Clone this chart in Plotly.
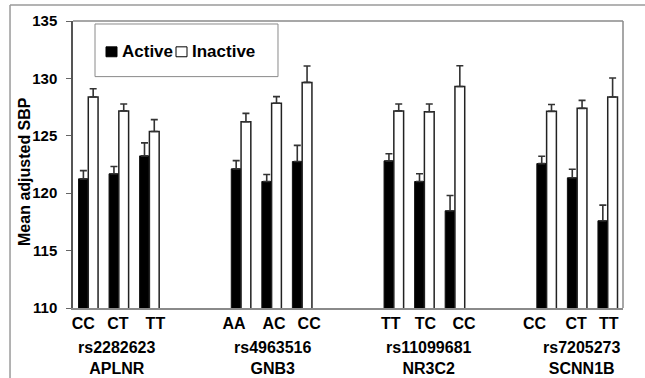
import plotly.graph_objects as go

# ---------------- data ----------------
snps = ["rs2282623", "rs4963516", "rs11099681", "rs7205273"]
genes = ["APLNR", "GNB3", "NR3C2", "SCNN1B"]
genotypes = [["CC", "CT", "TT"], ["AA", "AC", "CC"], ["TT", "TC", "CC"], ["CC", "CT", "TT"]]

active_mean = [121.25, 121.69, 123.25, 122.12, 121.02, 122.76, 122.82, 121.02, 118.47, 122.58, 121.34, 117.60]
active_err = [0.72, 0.63, 1.13, 0.72, 0.61, 1.41, 0.61, 0.67, 1.33, 0.64, 0.75, 1.36]
inactive_mean = [128.38, 127.17, 125.37, 126.23, 127.83, 129.65, 127.17, 127.10, 129.30, 127.13, 127.39, 128.38]
inactive_err = [0.72, 0.60, 1.04, 0.72, 0.58, 1.43, 0.60, 0.67, 1.80, 0.60, 0.70, 1.65]

y_ticks = [110, 115, 120, 125, 130, 135]

# ---------------- layout helpers ----------------
SLOT_PX = 550 / 18.0
# small horizontal shifts (px) of the text labels, as placed in the original figure
label_shift_px = [-5, -1, 6, -7, 2.5, 7, -3, 1, 9, -12, -1, 1]
gene_shift_px = [-2, 1.5, 5, 4.5]

# category slot positions: 3 genotypes per SNP, 2 empty slots between SNPs
xpos = []
labels = []
for g, gts in enumerate(genotypes):
    for i, gt in enumerate(gts):
        xpos.append(g * 5 + i)
        labels.append(gt)
tick_pos = [x + s / SLOT_PX for x, s in zip(xpos, label_shift_px)]
group_centers = [g * 5 + 1 + s / SLOT_PX for g, s in zip(range(len(snps)), gene_shift_px)]

FONT = "Arial, Liberation Sans, sans-serif"

fig = go.Figure()
fig.add_trace(go.Bar(
    x=xpos, y=active_mean, name="Active", offsetgroup="a",
    marker=dict(color="black", line=dict(color="#111", width=1)),
    error_y=dict(type="data", array=active_err, arrayminus=[0] * len(active_err),
                 symmetric=False, color="#333", thickness=1.6, width=3.5),
    showlegend=False,
))
fig.add_trace(go.Bar(
    x=xpos, y=inactive_mean, name="Inactive", offsetgroup="b",
    marker=dict(color="white", line=dict(color="#222", width=1.5)),
    error_y=dict(type="data", array=inactive_err, arrayminus=[0] * len(inactive_err),
                 symmetric=False, color="#333", thickness=1.6, width=3.5),
    showlegend=False,
))

shapes = [
    # outer frame (left + top)
    dict(type="line", xref="paper", yref="paper", x0=-0.1145, x1=-0.1145, y0=-0.3, y1=1.0554,
         line=dict(color="#9a9a9a", width=1.5)),
    dict(type="line", xref="paper", yref="paper", x0=-0.1145, x1=1.1, y0=1.0554, y1=1.0554,
         line=dict(color="#9a9a9a", width=1.5)),
    # plot area top/right border
    dict(type="line", xref="paper", yref="paper", x0=0, x1=1, y0=1, y1=1,
         line=dict(color="#8a8a8a", width=1.5)),
    dict(type="line", xref="paper", yref="paper", x0=1, x1=1, y0=0, y1=1,
         line=dict(color="#8a8a8a", width=1.5)),
    # legend box
    dict(type="rect", xref="paper", yref="paper", x0=0.040, x1=0.3727, y0=0.8062, y1=0.9896,
         line=dict(color="#8a8a8a", width=1), fillcolor="white"),
    # legend squares
    dict(type="rect", xref="paper", yref="paper", x0=0.060, x1=0.080, y0=0.8754, y1=0.910,
         line=dict(color="black", width=1), fillcolor="black"),
    dict(type="rect", xref="paper", yref="paper", x0=0.1873, x1=0.2073, y0=0.8754, y1=0.910,
         line=dict(color="black", width=1), fillcolor="white"),
]

annotations = [
    dict(text="Active", xref="paper", yref="paper", x=0.0855, y=0.8927, xanchor="left",
         yanchor="middle", showarrow=False, font=dict(family=FONT, size=17, color="black", weight="bold")),
    dict(text="Inactive", xref="paper", yref="paper", x=0.2125, y=0.8927, xanchor="left",
         yanchor="middle", showarrow=False, font=dict(family=FONT, size=17, color="black", weight="bold")),
    dict(text="Mean adjusted SBP", xref="paper", yref="paper", x=(25 - 73) / 550, y=(308 - 170) / 289,
         xanchor="center", yanchor="middle", textangle=-90, showarrow=False,
         font=dict(family=FONT, size=16, color="black", weight="bold")),
]
for c, s, gname in zip(group_centers, snps, genes):
    annotations.append(dict(
        text=f"{s}<br>{gname}", x=c, xref="x", yref="paper", y=(308 - 358) / 289,
        xanchor="center", yanchor="middle", showarrow=False,
        font=dict(family=FONT, size=16, color="black", weight="bold")))

fig.update_layout(
    width=645, height=378,
    margin=dict(l=73, r=22, t=19, b=70),
    paper_bgcolor="white", plot_bgcolor="white",
    barmode="group", bargap=0.36, bargroupgap=0,
    shapes=shapes, annotations=annotations,
    showlegend=False,
    font=dict(family=FONT, color="black"),
)
fig.update_xaxes(
    range=[-0.5, 17.5], tickvals=tick_pos, ticktext=labels, ticks="",
    showgrid=False, zeroline=False, showline=True, linecolor="#8a8a8a", linewidth=1.5,
    tickfont=dict(family=FONT, size=16, color="black", weight="bold"),
)
fig.update_yaxes(
    range=[110, 135], tickvals=y_ticks, ticks="outside", ticklen=5, tickcolor="#666",
    showgrid=False, zeroline=False, showline=True, linecolor="#555", linewidth=1.5,
    ticklabelstandoff=6,
    tickfont=dict(family=FONT, size=15, color="black", weight="bold"),
)

fig.write_html(
    "out.html",
    config={"displayModeBar": False},
    post_script="document.body.style.margin='0';document.body.style.overflow='hidden';",
)
